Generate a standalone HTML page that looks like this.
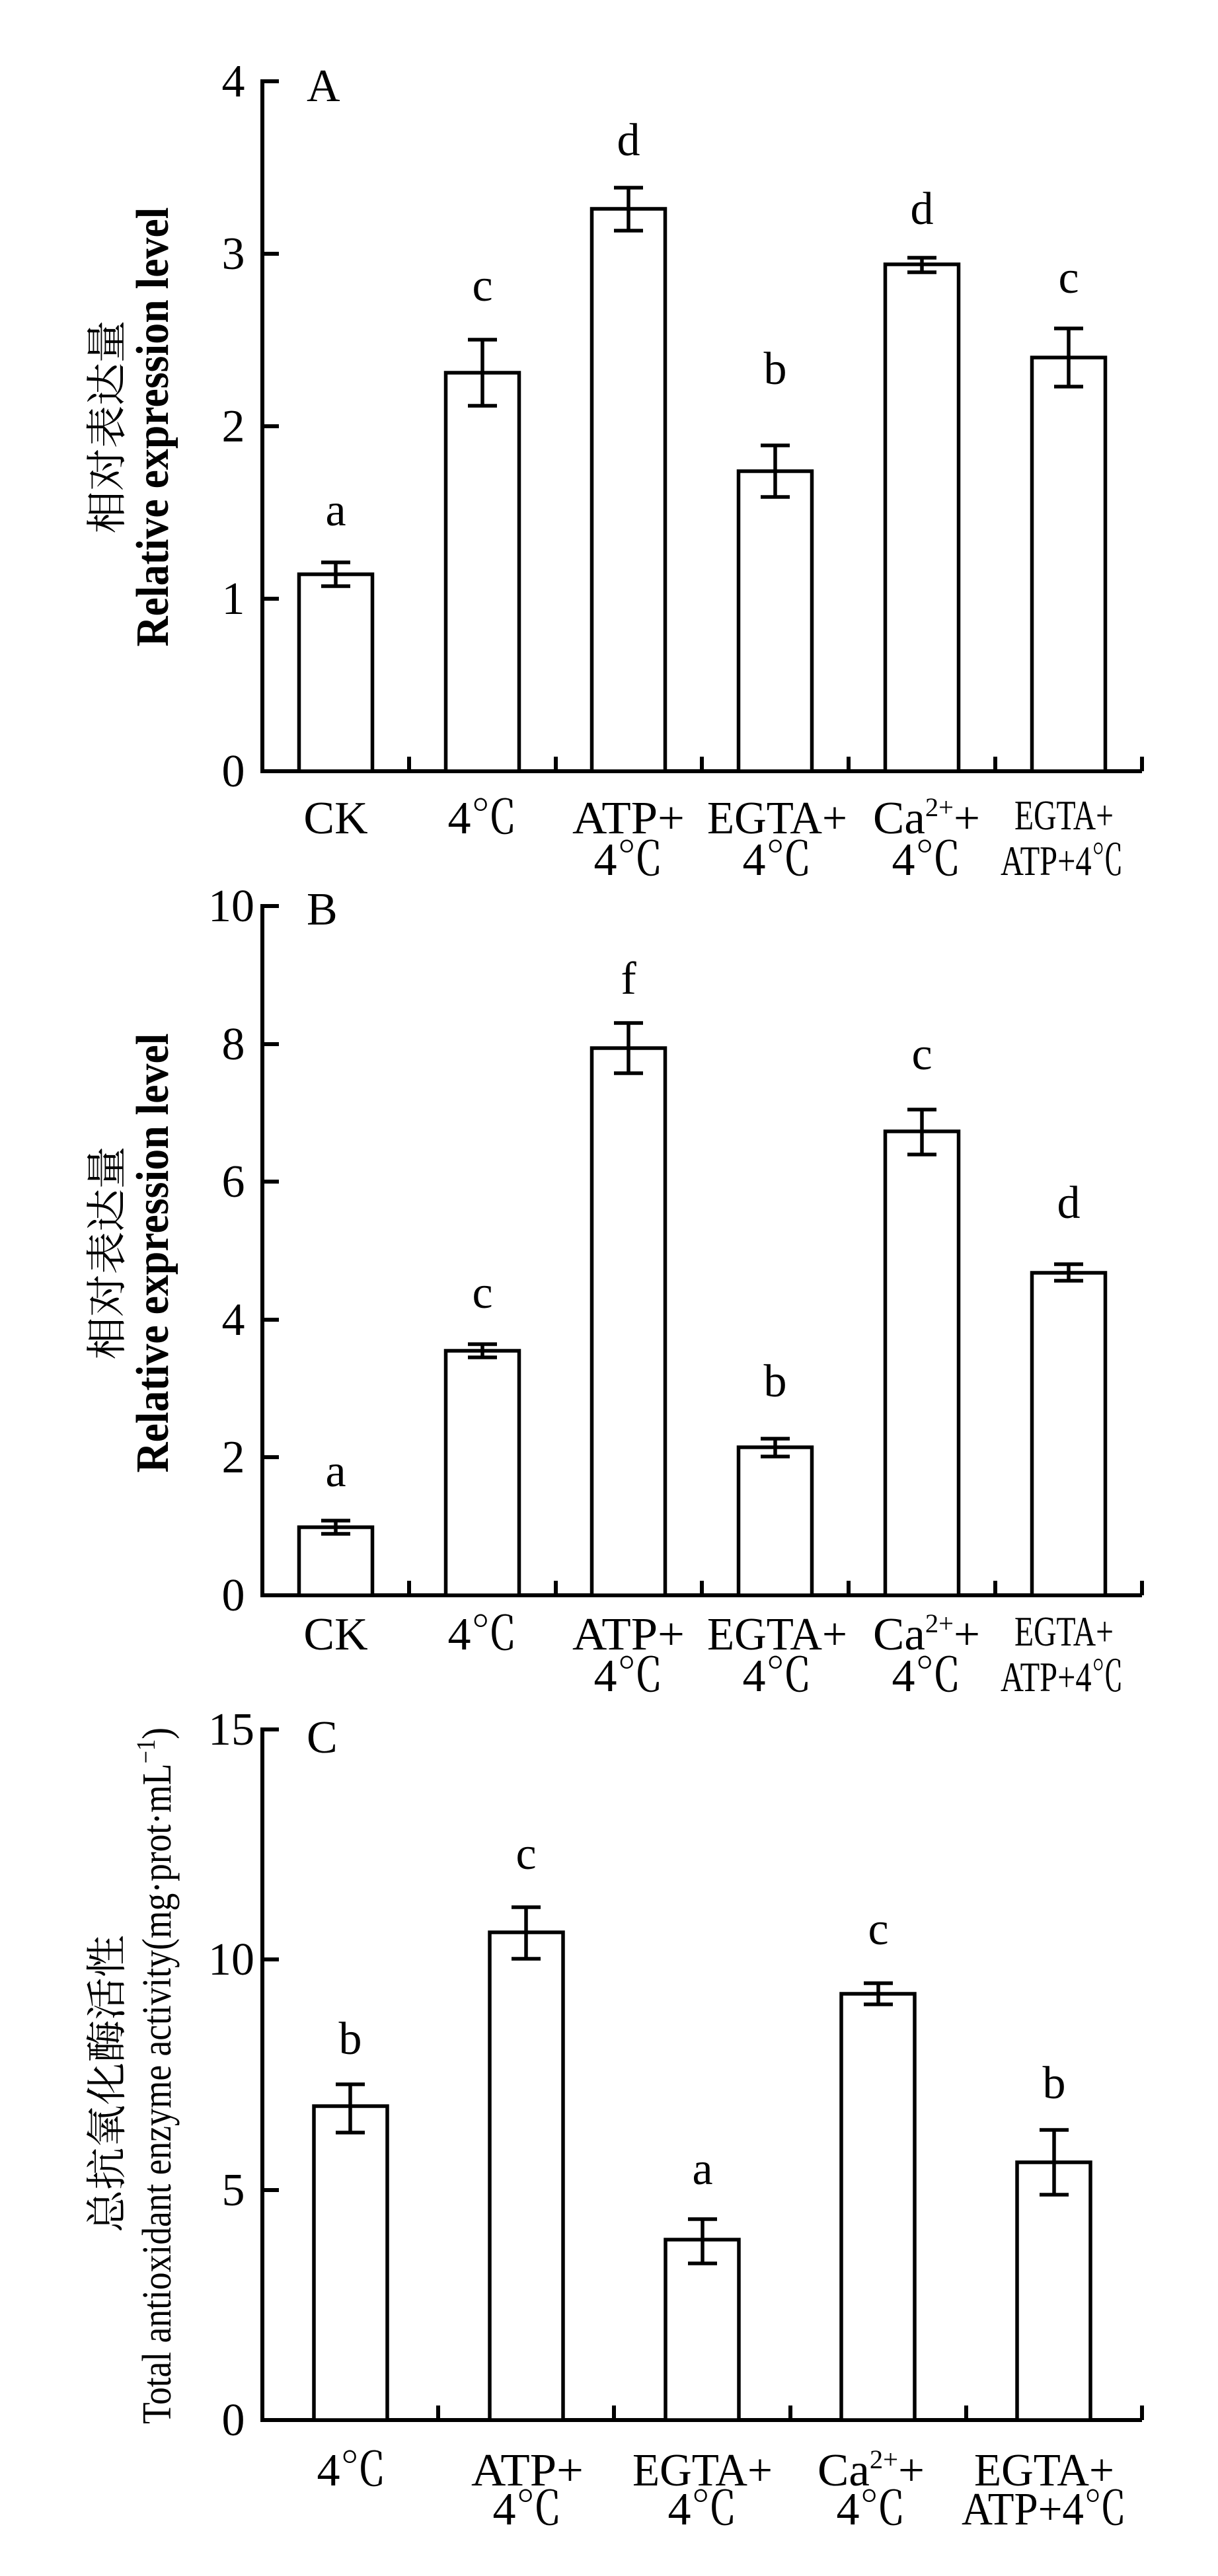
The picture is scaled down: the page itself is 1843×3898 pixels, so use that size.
<!DOCTYPE html>
<html><head><meta charset="utf-8"><style>
html,body{margin:0;padding:0;background:#fff;}
svg{display:block;}
text{font-family:"Liberation Serif","Noto Serif CJK SC",serif;fill:#000;}
.t{font-size:70px;}
.l{font-size:70px;text-anchor:middle;}
.cn{font-family:"Noto Serif CJK SC","Noto Sans CJK SC",serif;font-size:62px;}
</style></head><body>
<svg width="1843" height="3898" viewBox="0 0 1843 3898" xmlns="http://www.w3.org/2000/svg">
<g fill="none" stroke="#000" stroke-width="6">
<!-- Chart A axes -->
<path d="M422 123H397V1167H1728"/>
<path d="M397 384H422M397 645H422M397 906H422"/>
<path d="M619 1167V1145M841 1167V1145M1062 1167V1145M1284 1167V1145M1506 1167V1145M1728 1167V1145"/>
<!-- Chart B axes -->
<path d="M422 1371H397V2414H1728"/>
<path d="M397 1580H422M397 1788H422M397 1997H422M397 2205H422"/>
<path d="M619 2414V2392M841 2414V2392M1062 2414V2392M1284 2414V2392M1506 2414V2392M1728 2414V2392"/>
<!-- Chart C axes -->
<path d="M422 2617H397V3662H1728"/>
<path d="M397 2965H422M397 3314H422"/>
<path d="M663 3662V3640M929 3662V3640M1196 3662V3640M1462 3662V3640M1728 3662V3640"/>
</g>
<g fill="#fff" stroke="#000" stroke-width="5.5">
<!-- A bars -->
<rect x="452.5" y="869" width="111" height="298"/>
<rect x="674.5" y="564" width="111" height="603"/>
<rect x="895.5" y="316" width="111" height="851"/>
<rect x="1117.5" y="713" width="111" height="454"/>
<rect x="1339.5" y="400" width="111" height="767"/>
<rect x="1561.5" y="541" width="111" height="626"/>
<!-- B bars -->
<rect x="452.5" y="2311" width="111" height="103"/>
<rect x="674.5" y="2044" width="111" height="370"/>
<rect x="895.5" y="1586" width="111" height="828"/>
<rect x="1117.5" y="2190" width="111" height="224"/>
<rect x="1339.5" y="1712" width="111" height="702"/>
<rect x="1561.5" y="1926" width="111" height="488"/>
<!-- C bars -->
<rect x="475" y="3187" width="111" height="475"/>
<rect x="741" y="2924" width="111" height="738"/>
<rect x="1007" y="3389" width="111" height="273"/>
<rect x="1273" y="3017" width="111" height="645"/>
<rect x="1539" y="3272" width="111" height="390"/>
</g>
<g fill="none" stroke="#000" stroke-width="5.5">
<!-- A errors -->
<path d="M508 851V887M486 851H530M486 887H530"/>
<path d="M730 514V614M708 514H752M708 614H752"/>
<path d="M951 284V349M929 284H973M929 349H973"/>
<path d="M1173 674V752M1151 674H1195M1151 752H1195"/>
<path d="M1395 390V412M1373 390H1417M1373 412H1417"/>
<path d="M1617 497V585M1595 497H1639M1595 585H1639"/>
<!-- B errors -->
<path d="M508 2301V2321M486 2301H530M486 2321H530"/>
<path d="M730 2034V2054M708 2034H752M708 2054H752"/>
<path d="M951 1548V1624M929 1548H973M929 1624H973"/>
<path d="M1173 2177V2204M1151 2177H1195M1151 2204H1195"/>
<path d="M1395 1679V1747M1373 1679H1417M1373 1747H1417"/>
<path d="M1617 1913V1938M1595 1913H1639M1595 1938H1639"/>
<!-- C errors -->
<path d="M530 3154V3227M508 3154H552M508 3227H552"/>
<path d="M796 2886V2964M774 2886H818M774 2964H818"/>
<path d="M1063 3358V3425M1041 3358H1085M1041 3425H1085"/>
<path d="M1329 3001V3033M1307 3001H1351M1307 3033H1351"/>
<path d="M1595 3223V3321M1573 3223H1617M1573 3321H1617"/>
</g>

<!-- Tick labels -->
<g class="l">
<text x="353" y="146">4</text><text x="353" y="407">3</text><text x="353" y="668">2</text><text x="353" y="929">1</text><text x="353" y="1190">0</text>
<text x="350" y="1394" textLength="70" lengthAdjust="spacingAndGlyphs">10</text><text x="353" y="1603">8</text><text x="353" y="1811">6</text><text x="353" y="2020">4</text><text x="353" y="2228">2</text><text x="353" y="2437">0</text>
<text x="350" y="2640" textLength="70" lengthAdjust="spacingAndGlyphs">15</text><text x="350" y="2988" textLength="70" lengthAdjust="spacingAndGlyphs">10</text><text x="353" y="3337">5</text><text x="353" y="3685">0</text>
</g>

<!-- Panel letters -->
<text class="t" x="464" y="153">A</text>
<text class="t" x="464" y="1399">B</text>
<text class="t" x="464" y="2652">C</text>

<!-- significance letters -->
<g class="l">
<text x="508" y="795">a</text><text x="730" y="455">c</text><text x="951" y="235">d</text><text x="1173" y="581">b</text><text x="1395" y="339">d</text><text x="1617" y="443">c</text>
<text x="508" y="2249">a</text><text x="730" y="1979">c</text><text x="951" y="1504">f</text><text x="1173" y="2113">b</text><text x="1395" y="1618">c</text><text x="1617" y="1843">d</text>
<text x="530" y="3108">b</text><text x="796" y="2828">c</text><text x="1063" y="3305">a</text><text x="1329" y="2942">c</text><text x="1595" y="3175">b</text>
</g>

<!-- X labels A -->
<g class="l">
<text x="508" y="1261">CK</text>
<text x="730" y="1261">4℃</text>
<text x="951" y="1261" textLength="170" lengthAdjust="spacingAndGlyphs">ATP+</text><text x="951" y="1324">4℃</text>
<text x="1176" y="1261" textLength="212" lengthAdjust="spacingAndGlyphs">EGTA+</text><text x="1176" y="1324">4℃</text>
<text x="1402" y="1261" textLength="162" lengthAdjust="spacingAndGlyphs">Ca<tspan font-size="40" dy="-26">2+</tspan><tspan dy="26">+</tspan></text><text x="1402" y="1324">4℃</text>
<text x="1610" y="1255" textLength="150" lengthAdjust="spacingAndGlyphs" font-size="64">EGTA+</text><text x="1607" y="1324" textLength="186" lengthAdjust="spacingAndGlyphs" font-size="64">ATP+4℃</text>
</g>
<!-- X labels B -->
<g class="l">
<text x="508" y="2496">CK</text>
<text x="730" y="2496">4℃</text>
<text x="951" y="2496" textLength="170" lengthAdjust="spacingAndGlyphs">ATP+</text><text x="951" y="2559">4℃</text>
<text x="1176" y="2496" textLength="212" lengthAdjust="spacingAndGlyphs">EGTA+</text><text x="1176" y="2559">4℃</text>
<text x="1402" y="2496" textLength="162" lengthAdjust="spacingAndGlyphs">Ca<tspan font-size="40" dy="-26">2+</tspan><tspan dy="26">+</tspan></text><text x="1402" y="2559">4℃</text>
<text x="1610" y="2490" textLength="150" lengthAdjust="spacingAndGlyphs" font-size="64">EGTA+</text><text x="1607" y="2559" textLength="186" lengthAdjust="spacingAndGlyphs" font-size="64">ATP+4℃</text>
</g>
<!-- X labels C -->
<g class="l">
<text x="532" y="3761">4℃</text>
<text x="798" y="3761" textLength="170" lengthAdjust="spacingAndGlyphs">ATP+</text><text x="798" y="3820">4℃</text>
<text x="1063" y="3761" textLength="212" lengthAdjust="spacingAndGlyphs">EGTA+</text><text x="1063" y="3820">4℃</text>
<text x="1318" y="3761" textLength="162" lengthAdjust="spacingAndGlyphs">Ca<tspan font-size="40" dy="-26">2+</tspan><tspan dy="26">+</tspan></text><text x="1318" y="3820">4℃</text>
<text x="1580" y="3761" textLength="212" lengthAdjust="spacingAndGlyphs">EGTA+</text><text x="1580" y="3820" textLength="250" lengthAdjust="spacingAndGlyphs">ATP+4℃</text>
</g>

<!-- Y titles -->
<text class="cn" transform="translate(183,646) rotate(-90)" text-anchor="middle" textLength="323" lengthAdjust="spacingAndGlyphs">相对表达量</text>
<text transform="translate(254,646) rotate(-90)" text-anchor="middle" font-size="70" font-weight="bold" textLength="665" lengthAdjust="spacingAndGlyphs">Relative expression level</text>
<text class="cn" transform="translate(183,1896) rotate(-90)" text-anchor="middle" textLength="323" lengthAdjust="spacingAndGlyphs">相对表达量</text>
<text transform="translate(254,1896) rotate(-90)" text-anchor="middle" font-size="70" font-weight="bold" textLength="665" lengthAdjust="spacingAndGlyphs">Relative expression level</text>
<text class="cn" transform="translate(183,3153) rotate(-90)" text-anchor="middle" textLength="450" lengthAdjust="spacingAndGlyphs">总抗氧化酶活性</text>
<text transform="translate(258,3141) rotate(-90)" text-anchor="middle" font-size="62" textLength="1054" lengthAdjust="spacingAndGlyphs">Total antioxidant enzyme activity(mg·prot·mL<tspan font-size="40" dy="-24">−1</tspan><tspan dy="24">)</tspan></text>
</svg>
</body></html>
